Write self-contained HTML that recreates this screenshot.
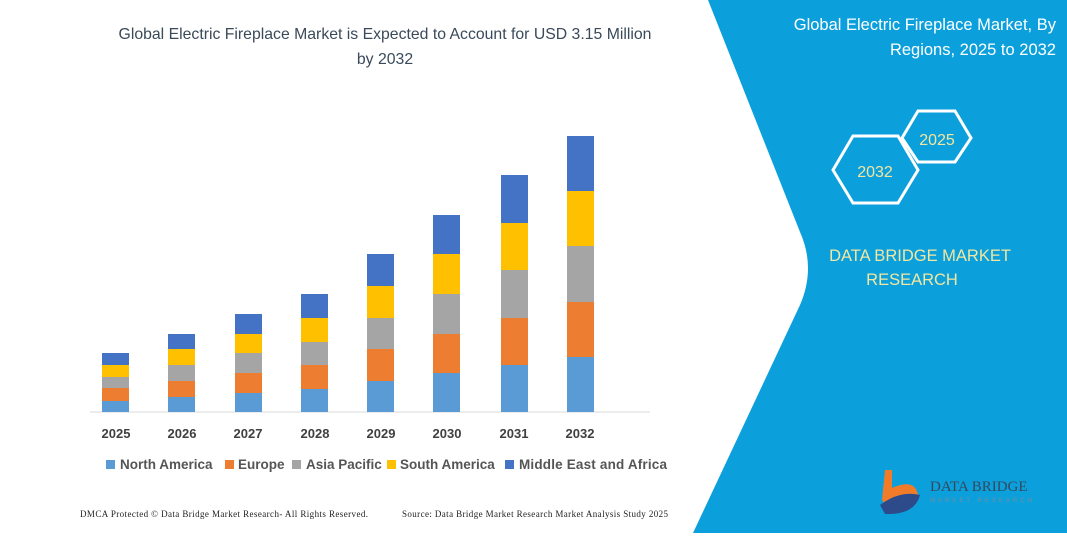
<!DOCTYPE html>
<html><head><meta charset="utf-8"><style>
body{margin:0;width:1067px;height:533px;overflow:hidden;background:#fff;font-family:"Liberation Sans",sans-serif;}
</style></head><body>
<svg width="1067" height="533" xmlns="http://www.w3.org/2000/svg" font-family="Liberation Sans, sans-serif">
<rect width="1067" height="533" fill="#fff"/>
<path d="M708,0 L1067,0 L1067,533 L693,533 L800,305 Q816,268 800,232 Z" fill="#0ba0dc"/>
<text x="385" y="39" text-anchor="middle" font-size="15.8" fill="#3a4a5a">Global Electric Fireplace Market is Expected to Account for USD 3.15 Million</text>
<text x="385" y="64" text-anchor="middle" font-size="15.8" fill="#3a4a5a">by 2032</text>
<text x="1056" y="30" text-anchor="end" font-size="16.5" fill="#fff">Global Electric Fireplace Market, By</text>
<text x="1056" y="55" text-anchor="end" font-size="16.5" fill="#fff">Regions, 2025 to 2032</text>
<polygon points="833,170 853,136 898,136 918,170 898,203 853,203" fill="none" stroke="#fff" stroke-width="3"/>
<polygon points="902,138 918,111 955,111 971,138 955,162 918,162" fill="none" stroke="#fff" stroke-width="3"/>
<text x="875" y="177" text-anchor="middle" font-size="16" fill="#f2e6a0">2032</text>
<text x="937" y="145" text-anchor="middle" font-size="16" fill="#f2e6a0">2025</text>
<text x="920" y="261" text-anchor="middle" font-size="16.5" fill="#f2e6a0">DATA BRIDGE MARKET</text>
<text x="912" y="285" text-anchor="middle" font-size="16.5" fill="#f2e6a0">RESEARCH</text>
<path d="M885,470 L892,470 L892,488 Q915,478 918,495 Q915,510 890,512 L882,500 Z" fill="#f07c2a"/>
<path d="M880,505 Q900,490 920,495 Q915,515 885,514 Z" fill="#2d4a8a"/>
<text x="930" y="491" font-size="15" fill="#34495e" font-family="Liberation Serif, serif">DATA BRIDGE</text>
<text x="930" y="502" font-size="6" fill="#7a8a9a" letter-spacing="3">MARKET RESEARCH</text>
<line x1="90" y1="412" x2="650" y2="412" stroke="#d9d9d9" stroke-width="1"/>
<g id="bars"></g>
<g font-size="13" font-weight="bold" fill="#404040" text-anchor="middle">
<text x="116" y="438">2025</text><text x="182" y="438">2026</text><text x="248" y="438">2027</text><text x="315" y="438">2028</text><text x="381" y="438">2029</text><text x="447" y="438">2030</text><text x="514" y="438">2031</text><text x="580" y="438">2032</text>
</g>
<g font-size="13.5" font-weight="bold" fill="#555">
<rect x="106" y="460" width="9" height="9" fill="#5b9bd5"/><text x="120" y="469">North America</text>
<rect x="225" y="460" width="9" height="9" fill="#ed7d31"/><text x="238" y="469">Europe</text>
<rect x="292" y="460" width="9" height="9" fill="#a5a5a5"/><text x="306" y="469">Asia Pacific</text>
<rect x="387" y="460" width="9" height="9" fill="#ffc000"/><text x="400" y="469">South America</text>
<rect x="505" y="460" width="9" height="9" fill="#4472c4"/><text x="519" y="469" textLength="148">Middle East and Africa</text>
</g>
<text x="80" y="517" font-size="9" fill="#222" font-family="Liberation Serif, serif" textLength="288">DMCA Protected © Data Bridge Market Research-  All Rights Reserved.</text>
<text x="402" y="517" font-size="9" fill="#222" font-family="Liberation Serif, serif" textLength="266">Source: Data Bridge Market Research  Market Analysis Study 2025</text>
</svg>
<script>
var xs=[102,168,235,301,367,433,501,567];
var b=[[353,365,377,388,401],[334,349,365,381,397],[314,334,353,373,393],[294,318,342,365,389],[254,286,318,349,381],[215,254,294,334,373],[175,223,270,318,365],[136,191,246,302,357]];
var c=["#4472c4","#ffc000","#a5a5a5","#ed7d31","#5b9bd5"];
var g=document.getElementById("bars"),s="";
for(var i=0;i<8;i++){var t=b[i].concat([412]);for(var k=0;k<5;k++){s+='<rect x="'+xs[i]+'" y="'+t[k]+'" width="27" height="'+(t[k+1]-t[k])+'" fill="'+c[k]+'"/>';}}
g.innerHTML=s;
</script>
</body></html>
